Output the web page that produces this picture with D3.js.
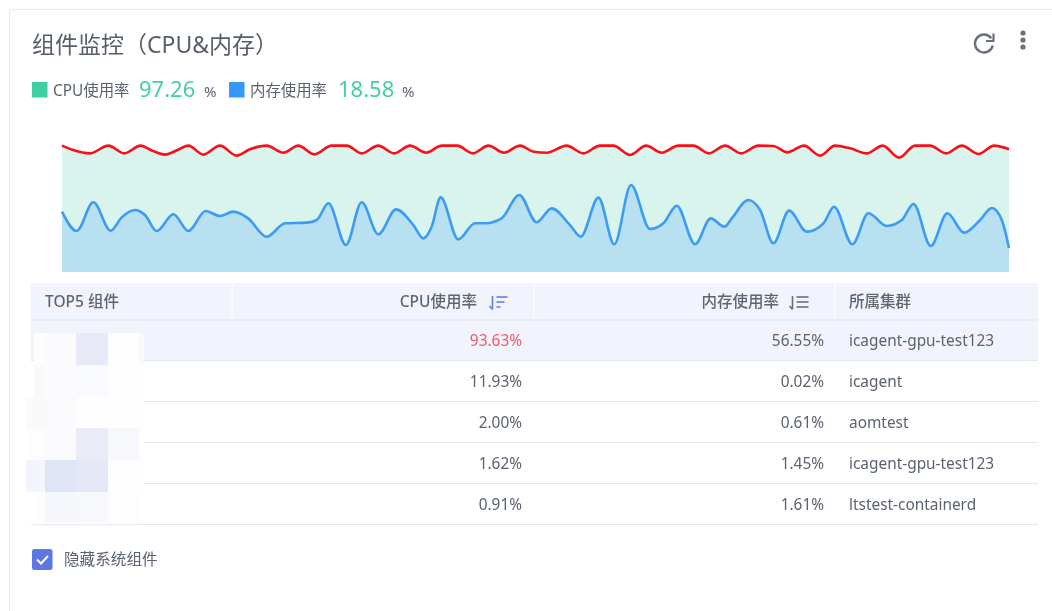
<!DOCTYPE html>
<html><head><meta charset="utf-8">
<script src="https://cdn.jsdelivr.net/npm/d3@7/dist/d3.min.js"></script>
<style>html,body{margin:0;padding:0;background:#fff;overflow:hidden}
svg{display:block;filter:blur(0.45px)}
text{font-family:"Noto Sans","Noto Sans CJK SC",sans-serif}</style>
</head><body><svg id="c" width="1052" height="611"></svg>
<script>
const title = "组件监控（CPU&内存）";
const legendNames = ["CPU使用率","内存使用率"];
const legendValues = ["97.26","18.58"];
const legendColors = ["#3fcfa5","#3399ff"];
const cpuT = [0,0.7,1.74,2.89,3.88,4.9,5.6,6.42,7.2,7.87,8.81,9.84,10.88,11.71,12.75,13.79,14.72,15.72,16.8,17.74,18.67,19.7,20.69,21.68,22.68,23.66,24.63,25.59,26.56,27.54,28.54,29.4,30.2,31.44,32.48,33.52,34.35,35.39,36.39,37.36,38.4,39.34,40.3,41.31,42.31,43.39,44.32,45.19,46.23,47.23,48.16,49.1,50.14,51.13,52.15,53.15,54.08,55.08,56.06,57.1,58.07,59];
const cpuV = [99.9,96.4,93.8,99.9,93.8,99.9,96,92.8,96.5,99.9,92.8,99.9,92,97,99.9,94.3,99.9,93,99.9,99.9,93.8,99.9,93.8,99.9,94.3,99.9,99.9,93.8,99.9,94.3,99.9,95,94.3,99.9,93.8,99.9,99.9,92.5,99.9,94.3,99.9,99.9,93.8,99.9,93.8,99.9,99.6,94.6,99.9,92,99.9,97.8,93.8,99.9,90.4,99.9,99.9,93.8,99.9,93.3,99.9,97];
const memT = [0,0.91,1.95,3.03,3.72,4.55,5.17,5.9,6.94,7.87,8.95,9.84,10.67,11.6,12.75,13.9,15.24,15.87,16.6,17.69,18.67,19.71,20.81,21.89,22.51,23.03,23.59,24.69,25.73,26.36,27.39,28.49,29.57,30.51,31.65,32.32,33.42,34.41,35.45,36.63,37.47,38.3,39.44,40.42,41.27,41.73,42.76,43.49,44.32,45.3,46.4,47.44,48.1,49.24,50.24,51.38,52.32,53.05,54.12,55.16,56.2,57.2,57.93,58.55,59];
const memV = [47.7,32.4,55.1,32.7,43.2,49,45,32.4,45.6,32.4,48.2,44.3,47.7,42.4,27.9,38.5,39,41.1,54.3,21.3,55.1,29.8,49.5,37.1,26.6,35.8,59,25.8,38.5,38.5,42.4,60.9,39.3,50.3,37.1,27.9,58.8,21.9,68.8,34,38.5,52.4,21.9,42.4,35.8,42.4,56.9,49,22.7,48.5,31.9,38.5,51.6,21.9,46.4,36.4,41.1,53.8,20.6,46.4,31.1,41.1,50.6,41.1,19];
const headers = ["TOP5 组件","CPU使用率","内存使用率","所属集群"];
const cpuUse = ["93.63%","11.93%","2.00%","1.62%","0.91%"];
const memUse = ["56.55%","0.02%","0.61%","1.45%","1.61%"];
const clusters = ["icagent-gpu-test123","icagent","aomtest","icagent-gpu-test123","ltstest-containerd"];
const maskCols = [26,34,45,76,108,139,144];
const maskRowsY = [333,365,397,428,460,492,522];
const maskColors = [
 ["#ffffff00","#fdfdfe","#fbfbfe","#e8ebf7","#fdfdfe","#f8f9fd"],
 ["#ffffff00","#f9f9f9","#fbfbfd","#f9fafd","#fdfdfe","#fefefe"],
 ["#fafafa","#f9f9f9","#fafafc","#fefefe","#fefefe","#fefefe"],
 ["#fdfdfe","#fdfdfe","#fbfbfd","#e9ecf7","#f7f8fc","#fefefe"],
 ["#f3f5fc","#f5f6fc","#e0e5f5","#e3e7f6","#fefefe","#fefefe"],
 ["#ffffff00","#fdfdfe","#f6f7fc","#f7f8fc","#fdfdfe","#ffffff00"]];

const svg = d3.select("#c");
const ink = "#5a6270";
// card
svg.append("path").attr("d","M9.5 611V9.5H1052").attr("fill","none").attr("stroke","#e9ebf1");
svg.append("text").attr("x",32).attr("y",53).attr("font-size",23).attr("fill","#565e6c").text(title);

// toolbar icons
const tb = svg.append("g");
tb.append("path").attr("d",d3.arc()({innerRadius:9,outerRadius:9,startAngle:1.8,endAngle:2*Math.PI+0.95}))
  .attr("transform","translate(984,43.5)").attr("fill","none").attr("stroke","#687080").attr("stroke-width",2.4);
tb.append("path").attr("d","M993.5 33.5v7.5h-7.5").attr("fill","none").attr("stroke","#687080").attr("stroke-width",2.2);
tb.selectAll("circle").data([33,40,47]).join("circle").attr("cx",1023).attr("cy",d=>d).attr("r",2.6).attr("fill","#707070");

// legend
const lx = [32,229], tx=[53,250], vx=[139,338], px=[204,402];
legendNames.forEach((n,i)=>{
  svg.append("rect").attr("x",lx[i]).attr("y",82).attr("width",15.5).attr("height",15.5).attr("fill",legendColors[i]);
  svg.append("text").attr("x",tx[i]).attr("y",96).attr("font-size",15.4).attr("fill",ink).text(n);
  svg.append("text").attr("x",vx[i]).attr("y",97).attr("font-size",22).attr("fill","#44cfa2").text(legendValues[i]);
  svg.append("text").attr("x",px[i]).attr("y",97).attr("font-size",15).attr("fill",ink).text("%");
});

// chart
const x = d3.scaleLinear().domain([0,59]).range([62,1009]);
const y = d3.scaleLinear().domain([0,100]).range([272,145.5]);
const zip = (t,v)=>t.map((d,i)=>[d,v[i]]);
const cpu = zip(cpuT,cpuV), mem = zip(memT,memV);
const area = d3.area().x(d=>x(d[0])).y0(y(0)).y1(d=>y(d[1])).curve(d3.curveMonotoneX);
const line = d3.line().x(d=>x(d[0])).y(d=>y(d[1])).curve(d3.curveMonotoneX);
svg.append("path").attr("d",area(cpu)).attr("fill","#d8f4ec");
svg.append("path").attr("d",area(mem)).attr("fill","#b7e1f0");
svg.append("path").attr("d",line(cpu)).attr("fill","none").attr("stroke","#fb0f17").attr("stroke-width",2.6);
svg.append("path").attr("d",line(mem)).attr("fill","none").attr("stroke","#3d9bf5").attr("stroke-width",2.6);

// table
const L=31,R=1038;
svg.append("rect").attr("x",L).attr("y",283).attr("width",R-L).attr("height",37).attr("fill","#f1f4fc");
svg.selectAll("line.sep").data([232,534,835]).join("line").attr("class","sep")
  .attr("x1",d=>d).attr("x2",d=>d).attr("y1",283).attr("y2",320).attr("stroke","#fff");
const rowY = d3.scaleLinear().domain([0,5]).range([320,525]);
svg.append("rect").attr("x",L).attr("y",rowY(0)).attr("width",R-L).attr("height",rowY(1)-rowY(0)).attr("fill","#f1f4fc");
svg.append("line").attr("x1",L).attr("x2",R).attr("y1",320).attr("y2",320).attr("stroke","#dfe3ea");
d3.range(1,6).forEach(i=>svg.append("line").attr("x1",L).attr("x2",R).attr("y1",rowY(i)-0.5).attr("y2",rowY(i)-0.5).attr("stroke","#e6e8ee"));
// blurred names
maskColors.forEach((row,r)=>row.forEach((c,k)=>{
  svg.append("rect").attr("x",maskCols[k]).attr("y",maskRowsY[r]).attr("width",maskCols[k+1]-maskCols[k]).attr("height",maskRowsY[r+1]-maskRowsY[r]).attr("fill",c);
}));
const hdr = svg.append("g").attr("font-size",15.5).attr("font-weight",500).attr("fill","#5d6574");
hdr.append("text").attr("x",45).attr("y",307).text(headers[0]);
hdr.append("text").attr("x",477).attr("y",307).attr("text-anchor","end").text(headers[1]);
hdr.append("text").attr("x",779).attr("y",307).attr("text-anchor","end").text(headers[2]);
hdr.append("text").attr("x",849).attr("y",307).text(headers[3]);
// sort icons
function sortIcon(ox,col,widths){
  const g=svg.append("g").attr("transform",`translate(${ox},296)`).attr("fill","none").attr("stroke-width",1.6);
  g.append("path").attr("d","M3.5 0V13M0.5 10L3.5 13.5").attr("stroke",col);
  g.selectAll("line").data(widths).join("line").attr("x1",7.5).attr("x2",d=>7.5+d)
   .attr("y1",(d,i)=>1+i*5).attr("y2",(d,i)=>1+i*5).attr("stroke",col);
}
sortIcon(489,"#5f7fe6",[11,8,4]);
sortIcon(789,"#667080",[12,12,12]);
// rows
cpuUse.forEach((v,i)=>{
  const b=rowY(i)+26;
  svg.append("text").attr("x",522).attr("y",b).attr("text-anchor","end").attr("font-size",15.4).attr("fill",i==0?"#ee5a66":ink).text(v);
  svg.append("text").attr("x",824).attr("y",b).attr("text-anchor","end").attr("font-size",15.4).attr("fill",ink).text(memUse[i]);
  svg.append("text").attr("x",849).attr("y",b).attr("font-size",15.4).attr("fill",ink).text(clusters[i]);
});
// checkbox
svg.append("rect").attr("x",32).attr("y",549).attr("width",20.5).attr("height",21).attr("rx",2.5).attr("fill","#5c78e2");
svg.append("path").attr("d","M37 559.5l4 4l7-7.5").attr("fill","none").attr("stroke","#fff").attr("stroke-width",2);
svg.append("text").attr("x",64).attr("y",565).attr("font-size",15.6).attr("fill",ink).text("隐藏系统组件");
</script></body></html>
